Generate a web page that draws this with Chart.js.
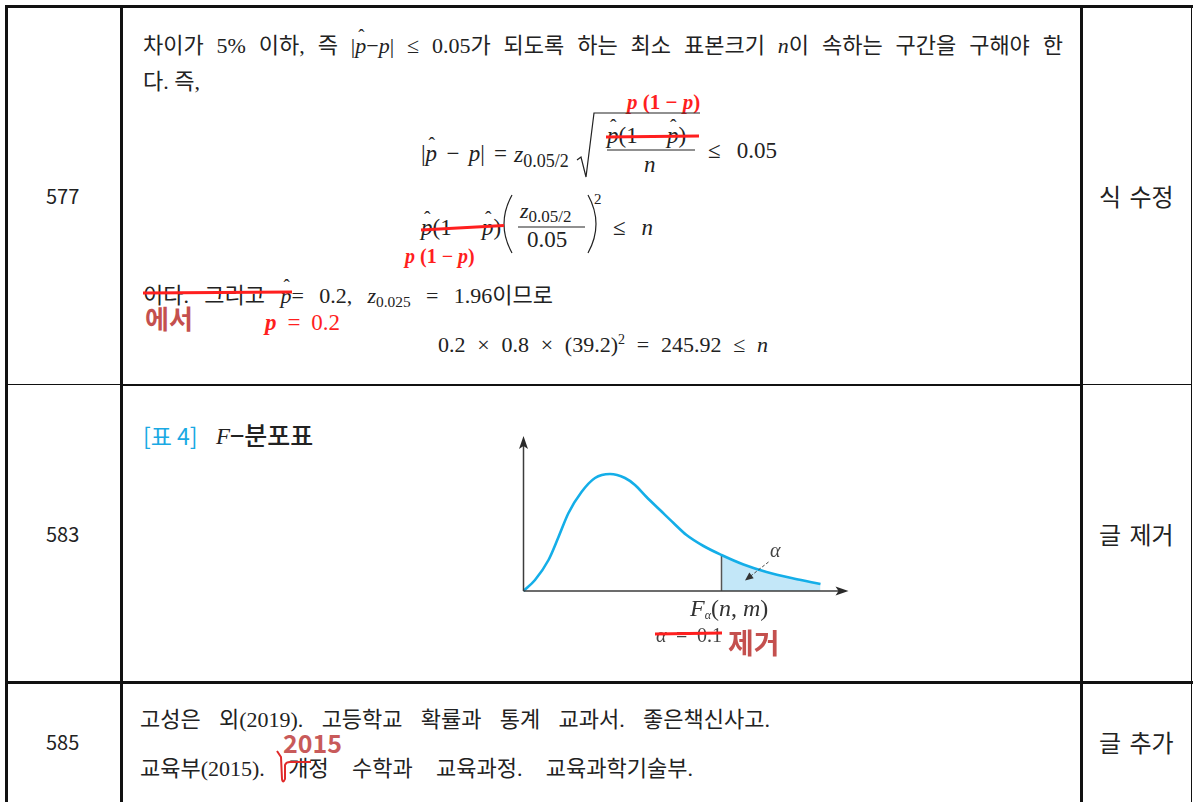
<!DOCTYPE html>
<html>
<head>
<meta charset="utf-8">
<script src="https://cdn.jsdelivr.net/npm/chart.js@4"></script>
<style>
  html, body { margin: 0; padding: 0; background: #fff; }
  body { width: 1196px; height: 802px; position: relative; overflow: hidden; }
  .b { position: absolute; background: #111; }
  .t { position: absolute; white-space: nowrap; line-height: 1; color: #222;
       font-family: 'Liberation Serif', 'Noto Sans CJK KR', serif; font-size: 22px; }
  .s { font-family: 'Noto Sans CJK KR', 'Noto Sans', sans-serif; }
  .num { position: absolute; font-family: 'Noto Sans CJK KR', sans-serif; font-size: 20px; color: #222; line-height: 1; }
  .note { position: absolute; font-family: 'Noto Sans CJK KR', sans-serif; font-size: 24px; word-spacing: 3px; color: #222; line-height: 1; }
  .hat { position: relative; display: inline-block; font-style: italic; }
  .hat::before { content: 'ˆ'; position: absolute; left: 3px; top: -0.42em; font-style: normal; font-size: 0.85em; }
  i { font-style: italic; }
  sub { font-size: 0.7em; vertical-align: -0.25em; line-height: 0; font-style: normal; }
  .red { color: #ff1f1f; font-weight: bold; }
  .brick { color: #c4504e; font-weight: bold; font-family: 'Noto Sans CJK KR', 'Noto Sans', sans-serif; }
  .just { text-align: justify; text-align-last: justify; }
  #chartBox { position: absolute; left: 503px; top: 426px; width: 360px; height: 180px; }
  #ov { position: absolute; left: 0; top: 0; pointer-events: none; }
</style>
</head>
<body>

<!-- table rules -->
<div class="b" style="left:5px;top:5px;width:1188px;height:3px"></div>
<div class="b" style="left:5px;top:5px;width:3px;height:797px"></div>
<div class="b" style="left:120px;top:5px;width:3px;height:797px"></div>
<div class="b" style="left:1080px;top:5px;width:3px;height:797px"></div>
<div class="b" style="left:1191px;top:5px;width:1px;height:797px"></div>
<div class="b" style="left:8px;top:384px;width:112px;height:1px"></div>
<div class="b" style="left:123px;top:384px;width:957px;height:2px"></div>
<div class="b" style="left:1083px;top:384px;width:108px;height:1px"></div>
<div class="b" style="left:5px;top:681px;width:1188px;height:3px"></div>

<!-- page numbers -->
<div class="num" style="left:46px;top:186px">577</div>
<div class="num" style="left:46px;top:524px">583</div>
<div class="num" style="left:46px;top:732px">585</div>

<!-- notes -->
<div class="note" style="left:1099px;top:184px">식 수정</div>
<div class="note" style="left:1099px;top:522px">글 제거</div>
<div class="note" style="left:1099px;top:730px">글 추가</div>

<!-- row 577 -->
<div class="t just" style="left:143px;top:35px;width:920px">차이가 5% 이하, 즉 |<span class="hat">p</span>−<i>p</i>| ≤ 0.05가 되도록 하는 최소 표본크기 <i>n</i>이 속하는 구간을 구해야 한</div>
<div class="t" style="left:143px;top:71px">다. 즉,</div>

<div class="t red" style="left:627px;top:92px;font-size:21px"><i>p</i> (1 − <i>p</i>)</div>
<div class="t just" style="left:421px;top:142px;width:86px;font-size:23px">|<span class="hat">p</span> − <i>p</i>| =</div>
<div class="t" style="left:514px;top:142px;font-size:24px"><i>z</i><sub style="font-size:18px">0.05/2</sub></div>
<div class="t" style="left:607px;top:124px;font-size:23px"><span class="hat">p</span>(1</div>
<div class="t" style="left:667px;top:124px;font-size:23px"><span class="hat">p</span>)</div>
<div class="t" style="left:644px;top:153px;font-size:23px"><i>n</i></div>
<div class="t just" style="left:708px;top:139px;width:69px;font-size:23px">≤ 0.05</div>

<div class="t" style="left:421px;top:216px;font-size:23px"><span class="hat">p</span>(1</div>
<div class="t" style="left:482px;top:216px;font-size:23px"><span class="hat">p</span>)</div>
<div class="t" style="left:520px;top:200px;font-size:22px"><i>z</i><sub style="font-size:17px">0.05/2</sub></div>
<div class="t" style="left:527px;top:228px;font-size:23px">0.05</div>
<div class="t" style="left:594px;top:192px;font-size:15px">2</div>
<div class="t just" style="left:613px;top:216px;width:40px;font-size:23px">≤ <i>n</i></div>
<div class="t red" style="left:405px;top:246px;font-size:20px"><i>p</i> (1 − <i>p</i>)</div>

<div class="t just" style="left:143px;top:285px;width:410px">이다. 그리고 <span class="hat">p</span>= 0.2, <i>z</i><sub>0.025</sub> = 1.96이므로</div>
<div class="t brick" style="left:145px;top:308px;font-size:26px;line-height:0.8">에서</div>
<div class="t just" style="left:265px;top:311px;width:75px;color:#ff1f1f;font-size:23px"><b><i>p</i></b> = 0.2</div>
<div class="t just" style="left:438px;top:333px;width:330px">0.2 × 0.8 × (39.2)<sup style="font-size:14px">2</sup> = 245.92 ≤ <i>n</i></div>

<!-- row 583 -->
<div class="t s" style="left:143px;top:424px;font-size:23px;color:#1aa9e3;font-weight:400">[표 4]</div>
<div class="t" style="left:216px;top:425px;font-size:23px"><i>F</i></div>
<div class="t s" style="left:230px;top:422px;font-size:25px;font-weight:500">−분포표</div>

<div id="chartBox"><canvas id="stage" width="360" height="180"></canvas></div>

<div class="t" style="left:690px;top:596px;font-size:24px;color:#333"><i>F</i><sub style="font-style:italic;font-size:12px">α</sub>(<i>n</i>, <i>m</i>)</div>
<div class="t" style="left:770px;top:540px;font-size:20px;color:#444"><i>α</i></div>
<div class="t just" style="left:656px;top:625px;width:66px;font-size:20px;color:#444"><i>α</i> = 0.1</div>
<div class="t brick" style="left:728px;top:630px;font-size:28px;line-height:0.9">제거</div>

<!-- row 585 -->
<div class="t just" style="left:140px;top:709px;width:630px">고성은 외(2019). 고등학교 확률과 통계 교과서. 좋은책신사고.</div>
<div class="t just" style="left:140px;top:758px;width:553px">교육부(2015). 개정 수학과 교육과정. 교육과학기술부.</div>
<div class="t brick" style="left:283px;top:732px;font-size:25px;line-height:0.8;color:#c85a5a">2015</div>

<svg id="ov" width="1196" height="802">
  <g stroke="#222" stroke-width="1.2" fill="none">
    <path d="M577 160 L581 157 L586 177 L594 113 L700 113"/>
    <line x1="607" y1="150" x2="695" y2="150"/>
    <path d="M512 195 Q496 224 512 253"/>
    <path d="M588 195 Q604 224 588 253"/>
    <line x1="518" y1="227" x2="585" y2="227"/>
  </g>
  <g stroke="#ff1f1f" stroke-width="3" fill="none">
    <line x1="606" y1="137" x2="699" y2="136"/>
    <line x1="421" y1="230" x2="504" y2="225.5"/>
    <line x1="143" y1="293" x2="292" y2="292"/>
    <line x1="655" y1="634" x2="722" y2="633"/>
  </g>
  <path d="M277 751 L281 757 L282 779 Q283 784 285 779 L285 765 Q286 762 290 762 L311 762"
        stroke="#e02a2a" stroke-width="2" fill="none"/>
</svg>

<script>
// F-distribution shape (x = F value, y = density, arbitrary units)
const curveX = [0, 0.115, 0.25, 0.35, 0.45, 0.58, 0.715, 0.865, 1.015, 1.115, 1.23, 1.365, 1.50, 1.63, 1.80, 1.98, 2.20, 2.43, 2.70, 2.97];
const curveY = [0, 0.11, 0.31, 0.54, 0.78, 0.99, 1.13, 1.17, 1.13, 1.06, 0.94, 0.81, 0.68, 0.56, 0.45, 0.36, 0.265, 0.19, 0.125, 0.07];
const criticalF = 1.98;
const criticalY = 0.36;
const axisEnd = [3.25, 1.55];           // arrow tips of x and y axes
const alphaArrow = [[2.45, 0.29], [2.215, 0.105]];

const curve = curveX.map((x, i) => ({ x: x, y: curveY[i] }));
const tail = curve.filter(p => p.x >= criticalF);

const axesPlugin = {
  id: 'axes',
  afterDatasetsDraw(chart) {
    const c = chart.ctx;
    const sx = chart.scales.x, sy = chart.scales.y;
    const x0 = sx.getPixelForValue(0), y0 = sy.getPixelForValue(0);
    const xe = sx.getPixelForValue(axisEnd[0]), ye = sy.getPixelForValue(axisEnd[1]);
    c.save();
    c.strokeStyle = '#3c3c3c';
    c.fillStyle = '#2a2a2a';
    c.lineWidth = 1.5;
    c.beginPath();
    c.moveTo(x0, y0); c.lineTo(xe - 6, y0);
    c.moveTo(x0, y0); c.lineTo(x0, ye + 6);
    c.stroke();
    // arrow heads
    c.beginPath();
    c.moveTo(xe, y0); c.lineTo(xe - 13, y0 - 4.5); c.lineTo(xe - 10, y0); c.lineTo(xe - 13, y0 + 4.5);
    c.closePath(); c.fill();
    c.beginPath();
    c.moveTo(x0, ye); c.lineTo(x0 - 4.5, ye + 13); c.lineTo(x0, ye + 10); c.lineTo(x0 + 4.5, ye + 13);
    c.closePath(); c.fill();
    // dashed pointer to the alpha area
    const ax = sx.getPixelForValue(alphaArrow[0][0]), ay = sy.getPixelForValue(alphaArrow[0][1]);
    const bx = sx.getPixelForValue(alphaArrow[1][0]), by = sy.getPixelForValue(alphaArrow[1][1]);
    c.strokeStyle = '#444';
    c.lineWidth = 1;
    c.setLineDash([3, 2]);
    c.beginPath(); c.moveTo(ax, ay); c.lineTo(bx, by); c.stroke();
    c.setLineDash([]);
    const ang = Math.atan2(by - ay, bx - ax);
    c.fillStyle = '#333';
    c.beginPath();
    c.moveTo(bx, by);
    c.lineTo(bx - 9 * Math.cos(ang - 0.4), by - 9 * Math.sin(ang - 0.4));
    c.lineTo(bx - 9 * Math.cos(ang + 0.4), by - 9 * Math.sin(ang + 0.4));
    c.closePath(); c.fill();
    c.restore();
  }
};

new Chart(document.getElementById('stage'), {
  type: 'line',
  data: {
    datasets: [{
      data: curve,
      borderColor: '#14aee8',
      borderWidth: 2.6,
      pointRadius: 0,
      fill: false,
      cubicInterpolationMode: 'monotone',
      order: 0
    }, {
      data: [{ x: criticalF, y: 0 }, { x: criticalF, y: criticalY }],
      borderColor: '#555',
      borderWidth: 1.5,
      pointRadius: 0,
      fill: false,
      order: 1
    }, {
      data: tail,
      borderWidth: 0,
      borderColor: 'rgba(0,0,0,0)',
      backgroundColor: '#c3e7f8',
      pointRadius: 0,
      fill: 'origin',
      cubicInterpolationMode: 'monotone',
      order: 2
    }]
  },
  options: {
    responsive: false,
    animation: false,
    events: [],
    layout: { padding: 0 },
    plugins: { legend: { display: false }, tooltip: { enabled: false } },
    scales: {
      x: { type: 'linear', min: -0.205, max: 3.395, display: false },
      y: { type: 'linear', min: -0.15, max: 1.65, display: false }
    }
  },
  plugins: [axesPlugin]
});
</script>
</body>
</html>
